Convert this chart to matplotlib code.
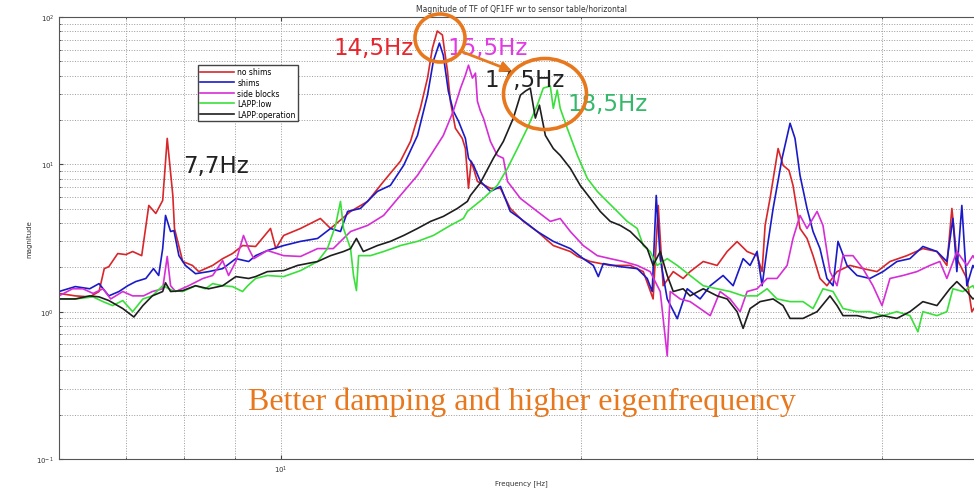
import matplotlib
matplotlib.use('Agg')
import matplotlib.pyplot as plt
from matplotlib.patches import Ellipse, FancyArrowPatch
from matplotlib.ticker import NullFormatter, LogLocator

# Gegevens
# no shims
f_noshims = [6.0, 6.23, 6.44, 6.58, 6.66, 6.73, 6.87, 7.0, 7.11, 7.26, 7.38, 7.5, 7.62, 7.7, 7.8, 7.83,
             7.98, 8.16, 8.28, 8.55, 8.75, 8.95, 9.16, 9.44, 9.77, 9.89, 10.07, 10.47, 10.96, 11.22, 11.75,
             12.22, 12.68, 13.18, 13.49, 13.8, 14.03, 14.19, 14.35, 14.52, 14.69, 14.79, 14.96, 15.2, 15.31,
             15.42, 15.52, 15.74, 16.22, 16.6, 16.98, 17.5, 18.07, 18.75, 19.5, 19.82, 20.42, 21.38, 22.39,
             23.07, 23.6, 23.88, 24.15, 24.72, 25.29, 25.7, 26.49, 27.35, 27.99, 28.64, 29.31, 29.99, 30.34,
             30.55, 30.9, 31.48, 31.84, 32.28, 32.58, 33.11, 33.65, 34.12, 34.67, 35.23, 36.06, 37.15, 38.28,
             39.54, 40.74, 42.36, 43.95, 45.4, 46.45, 46.99, 47.53, 48.64, 49.2, 50.2]
m_noshims = [1.33, 1.28, 1.26, 1.37, 1.96, 2.02, 2.48, 2.44, 2.56, 2.40, 5.26, 4.64, 5.69, 15.0, 6.15, 3.67,
             2.19, 2.06, 1.87, 2.06, 2.29, 2.48, 2.81, 2.77, 3.67, 2.68, 3.29, 3.67, 4.29, 3.67, 4.79,
             5.6, 7.66, 10.5, 14.3, 24.0, 38.5, 61.5, 80.3, 75.5, 43.0, 26.8, 17.6, 15.0, 12.8,
             6.87, 10.5, 7.66, 6.87, 6.87, 5.02, 4.1, 3.5, 2.81, 2.56, 2.37, 2.19, 2.06, 2.06,
             1.87, 1.22, 5.26, 1.5, 1.87, 1.68, 1.87, 2.19, 2.06, 2.56, 2.99, 2.56, 2.4, 1.87,
             3.85, 5.87, 12.8, 9.85, 9.1, 7.2, 3.67, 3.14, 2.4, 1.68, 1.5, 1.87, 2.06, 1.96,
             1.87, 2.19, 2.4, 2.68, 2.56, 2.06, 5.02, 2.29, 1.68, 1.0, 1.22]

# shims
f_shims = [6.0, 6.23, 6.44, 6.58, 6.73, 6.89, 7.03, 7.16, 7.33, 7.46, 7.55, 7.62, 7.67, 7.76, 7.82, 7.91,
           8.03, 8.22, 8.47, 8.75, 9.02, 9.29, 9.44, 9.7, 10.07, 10.47, 10.89, 11.22, 11.48, 11.67, 12.02,
           12.5, 12.88, 13.28, 13.71, 14.03, 14.22, 14.42, 14.55, 14.72, 14.89, 15.07, 15.31, 15.42, 15.6,
           15.85, 16.22, 16.6, 16.98, 17.38, 18.07, 18.75, 19.5, 20.09, 20.56, 20.8, 21.04, 21.88, 22.75,
           23.28, 23.55, 23.77, 23.99, 24.38, 24.95, 25.53, 26.3, 26.92, 27.73, 28.38, 29.04, 29.51, 29.99,
           30.34, 30.69, 31.12, 31.77, 32.36, 32.73, 33.11, 33.65, 34.12, 34.67, 35.23, 35.73, 36.14, 36.9,
           37.76, 38.9, 40.09, 41.4, 42.66, 43.95, 45.4, 46.45, 47.1, 47.53, 48.08, 48.64, 49.32, 50.2]
m_shims = [1.37, 1.48, 1.43, 1.55, 1.28, 1.37, 1.5, 1.6, 1.68, 1.96, 1.76, 2.68, 4.5, 3.5, 3.55, 2.4,
           2.06, 1.81, 1.87, 1.96, 2.29, 2.19, 2.4, 2.6, 2.81, 3.0, 3.14, 3.67, 3.5, 4.79, 5.02,
           6.55, 7.2, 9.85, 15.7, 29.5, 50.2, 66.5, 55.0, 31.4, 23.0, 19.6, 15.0, 11.0, 9.85,
           7.66, 6.55, 7.08, 4.79, 4.29, 3.5, 3.0, 2.68, 2.29, 2.06, 1.73, 2.12, 2.02, 1.96,
           1.68, 1.37, 6.15, 2.29, 1.22, 0.896, 1.43, 1.22, 1.5, 1.76, 1.5, 2.29, 2.06, 2.56,
           1.5, 2.68, 5.02, 11.0, 19.0, 15.0, 8.42, 5.02, 3.5, 2.68, 1.68, 1.5, 3.0, 2.06,
           1.76, 1.68, 1.87, 2.19, 2.29, 2.77, 2.56, 2.19, 4.29, 1.87, 5.26, 1.5, 2.06, 1.68]

# side blocks
f_side = [6.0, 6.19, 6.34, 6.49, 6.64, 6.76, 6.95, 7.11, 7.29, 7.44, 7.62, 7.7, 7.76, 7.85, 8.09, 8.36,
          8.55, 8.75, 8.87, 9.02, 9.18, 9.29, 9.4, 9.7, 10.07, 10.47, 10.89, 11.29, 11.75, 12.22, 12.68,
          13.18, 13.71, 14.13, 14.55, 14.89, 15.14, 15.31, 15.42, 15.56, 15.67, 15.74, 15.85, 15.96, 16.22,
          16.48, 16.71, 16.87, 17.38, 18.07, 18.62, 19.05, 19.5, 20.09, 20.75, 21.38, 22.03, 22.75, 23.44,
          23.99, 24.38, 24.55, 25.12, 25.7, 26.3, 26.92, 27.54, 28.18, 28.84, 29.31, 29.99, 30.69, 31.4,
          32.14, 32.58, 33.11, 33.65, 34.44, 34.91, 35.48, 36.06, 36.56, 37.41, 38.28, 39.17, 40.0, 40.74,
          41.98, 43.35, 44.67, 45.7, 46.45, 47.53, 48.64, 49.32, 50.2]
m_side = [1.28, 1.43, 1.43, 1.33, 1.43, 1.22, 1.37, 1.28, 1.28, 1.37, 1.43, 2.37, 1.5, 1.37, 1.5, 1.68,
          1.76, 2.22, 1.76, 2.19, 3.29, 2.68, 2.29, 2.6, 2.4, 2.37, 2.68, 2.68, 3.5, 3.85, 4.5,
          6.15, 8.42, 11.5, 15.7, 23.0, 32.9, 40.3, 47.1, 38.5, 41.6, 26.8, 23.0, 20.6, 14.3,
          11.5, 11.0, 7.66, 5.87, 4.79, 4.1, 4.29, 3.5, 2.81, 2.4, 2.29, 2.19, 2.06, 1.87,
          1.37, 0.50, 1.37, 1.22, 1.17, 1.05, 0.94, 1.37, 1.22, 1.0, 1.37, 1.43, 1.68, 1.68,
          2.06, 3.14, 4.5, 3.67, 4.79, 3.85, 1.87, 1.5, 2.4, 2.4, 1.96, 1.5, 1.1, 1.68,
          1.76, 1.87, 2.06, 2.19, 1.68, 2.56, 2.06, 2.4, 1.96]

# LAPP:low
f_low = [6.0, 6.23, 6.49, 6.64, 6.79, 6.95, 7.11, 7.28, 7.44, 7.62, 7.8, 7.98, 8.22, 8.41, 8.55, 8.75,
         8.95, 9.16, 9.27, 9.44, 9.7, 10.07, 10.47, 10.89, 11.14, 11.35, 11.48, 11.56, 11.75, 11.83, 11.91,
         11.97, 12.3, 12.68, 13.18, 13.71, 14.22, 14.79, 15.24, 15.38, 15.96, 16.48, 16.87, 17.26, 17.66,
         18.07, 18.32, 18.62, 18.75, 18.92, 19.05, 19.36, 19.82, 20.28, 20.75, 21.23, 21.73, 22.23, 22.75,
         23.07, 23.44, 23.82, 24.38, 24.95, 25.7, 26.49, 27.35, 28.18, 29.04, 29.99, 30.69, 31.4, 32.36,
         33.34, 34.12, 34.91, 35.73, 36.56, 37.76, 38.9, 40.09, 41.4, 42.66, 43.45, 43.95, 45.4, 46.45,
         47.1, 48.19, 49.32, 50.2]
m_low = [1.22, 1.22, 1.26, 1.17, 1.1, 1.19, 1.0, 1.22, 1.28, 1.5, 1.39, 1.37, 1.5, 1.43, 1.55, 1.5,
         1.48, 1.37, 1.5, 1.68, 1.76, 1.73, 1.9, 2.19, 2.68, 3.85, 5.6, 3.67, 2.68, 1.76, 1.39,
         2.4, 2.4, 2.56, 2.81, 3.0, 3.29, 3.85, 4.29, 4.79, 5.87, 7.2, 9.4, 12.8, 17.6,
         25.2, 32.9, 34.0, 24.0, 31.9, 24.0, 17.6, 11.5, 8.03, 6.55, 5.6, 4.79, 4.1, 3.67,
         2.81, 2.56, 2.06, 2.29, 2.06, 1.76, 1.5, 1.43, 1.37, 1.28, 1.28, 1.43, 1.22, 1.17,
         1.17, 1.05, 1.43, 1.37, 1.05, 1.0, 1.0, 0.94, 1.0, 0.94, 0.73, 1.0, 0.94, 1.0,
         1.43, 1.37, 1.5, 1.22]

# LAPP:operation
f_oper = [6.0, 6.23, 6.44, 6.58, 6.73, 6.95, 7.13, 7.28, 7.44, 7.62, 7.67, 7.76, 7.98, 8.22, 8.47, 8.75,
          9.02, 9.29, 9.44, 9.7, 10.07, 10.4, 10.89, 11.22, 11.56, 11.75, 11.91, 12.1, 12.5, 12.88, 13.28,
          13.71, 14.13, 14.55, 15.03, 15.38, 15.49, 15.85, 16.33, 16.71, 17.1, 17.38, 17.58, 17.78, 17.99,
          18.16, 18.41, 18.75, 19.05, 19.5, 19.95, 20.42, 20.89, 21.38, 21.88, 22.39, 22.91, 23.28, 23.6,
          23.99, 24.38, 24.72, 25.29, 25.7, 26.49, 27.35, 27.99, 28.64, 29.04, 29.51, 30.2, 31.12, 31.84,
          32.36, 33.34, 34.44, 35.48, 36.06, 36.56, 37.76, 38.9, 40.09, 41.4, 42.66, 43.95, 45.4, 46.77,
          47.53, 48.64, 49.32, 50.2]
m_oper = [1.22, 1.22, 1.28, 1.26, 1.19, 1.05, 0.92, 1.1, 1.28, 1.37, 1.57, 1.37, 1.39, 1.5, 1.43, 1.5,
          1.73, 1.68, 1.73, 1.87, 1.9, 2.06, 2.19, 2.4, 2.56, 2.68, 3.14, 2.56, 2.81, 3.0, 3.29,
          3.67, 4.1, 4.43, 5.02, 5.6, 6.15, 7.5, 11.0, 14.3, 20.6, 29.5, 31.4, 32.9, 20.6,
          25.2, 15.7, 12.8, 11.5, 9.4, 7.2, 5.87, 4.79, 4.1, 3.85, 3.5, 3.0, 2.68, 2.06,
          2.56, 1.76, 1.37, 1.43, 1.28, 1.43, 1.28, 1.22, 1.0, 0.77, 1.05, 1.17, 1.22, 1.1,
          0.9, 0.9, 1.0, 1.28, 1.1, 0.94, 0.94, 0.9, 0.94, 0.9, 1.0, 1.17, 1.1, 1.43,
          1.6, 1.37, 1.22, 1.3]

labels = ['no shims', 'shims', 'side blocks', 'LAPP:low', 'LAPP:operation']
colors = ['#d8262a', '#1a1ac8', '#d62ed6', '#3ae03a', '#1e1e1e']

orange = '#e8781e'

# plotten
fig = plt.figure(figsize=(9.74, 4.89), dpi=100)
ax = fig.add_axes([59/974., 29/489., 925/974., 442/489.])

series = [(f_noshims, m_noshims), (f_shims, m_shims), (f_side, m_side), (f_low, m_low), (f_oper, m_oper)]
for (f, m), lab, c in zip(series, labels, colors):
    ax.plot(f, m, color=c, lw=1.2, label=lab)

ax.set_xscale('log')
ax.set_yscale('log')
ax.set_xlim([6.0, 50.6])
ax.set_ylim([0.1, 100])

ax.xaxis.set_minor_locator(LogLocator(base=10, subs=range(2, 10)))
ax.yaxis.set_minor_locator(LogLocator(base=10, subs=range(2, 10)))
ax.xaxis.set_minor_formatter(NullFormatter())
ax.yaxis.set_minor_formatter(NullFormatter())

ax.grid(True, which='both', linestyle=':', color='#9a9a9a', linewidth=0.7)
ax.tick_params(which='both', direction='in', top=True, right=True, labelsize=5, colors='#444444',
               labelcolor='#333333')
ax.tick_params(which='major', length=3)
ax.tick_params(which='minor', length=1.5)
for s in ax.spines.values():
    s.set_color('#555555')
    s.set_linewidth(0.8)

ax.set_title('Magnitude of TF of QF1FF wr to sensor table/horizontal', fontsize=5.5, color='#333333', pad=4)
ax.set_xlabel('Frequency [Hz]', fontsize=5, color='#333333')
ax.set_ylabel('magnitude', fontsize=5, color='#333333')
ax.yaxis.set_label_coords(-0.029, 0.5)
ax.xaxis.set_label_coords(0.5, -0.045)

ax.legend(loc='upper left', bbox_to_anchor=(0.150, 0.891), fontsize=5.5, handlelength=4.5,
          fancybox=False, edgecolor='#444444', framealpha=1, borderpad=0.3, labelspacing=0.2,
          handletextpad=0.4, borderaxespad=0)

# annotaties in figuurcoordinaten (pixels)
def pix(x, y):
    return (x/974., 1 - y/489.)

fs = 16.5
fig.text(*pix(183, 166), '7,7Hz', color='#222222', fontsize=fs, va='center')
fig.text(*pix(333, 49), '14,5Hz', color='#e6262c', fontsize=fs, va='center')
fig.text(*pix(447, 49), '15,5Hz', color='#e33be3', fontsize=fs, va='center')
fig.text(*pix(484, 80), '17,5Hz', color='#222222', fontsize=fs, va='center')
fig.text(*pix(567, 104), '18,5Hz', color='#36b86a', fontsize=fs, va='center')

fig.add_artist(Ellipse(pix(440, 39), 50/974., 48/489., transform=fig.transFigure,
                       fill=False, edgecolor=orange, lw=2.6, zorder=4))
fig.add_artist(Ellipse(pix(545, 95), 83/974., 71/489., transform=fig.transFigure,
                       fill=False, edgecolor=orange, lw=2.6, zorder=4))
fig.add_artist(FancyArrowPatch(pix(460, 52), pix(512, 72), transform=fig.transFigure,
                               arrowstyle='-|>', mutation_scale=15, color=orange, lw=2.0,
                               shrinkA=0, shrinkB=0, zorder=5))

fig.text(*pix(248, 410), 'Better damping and higher eigenfrequency', color=orange,
         fontsize=23, family='Liberation Serif', va='baseline')

plt.savefig('out.png', dpi=100)
